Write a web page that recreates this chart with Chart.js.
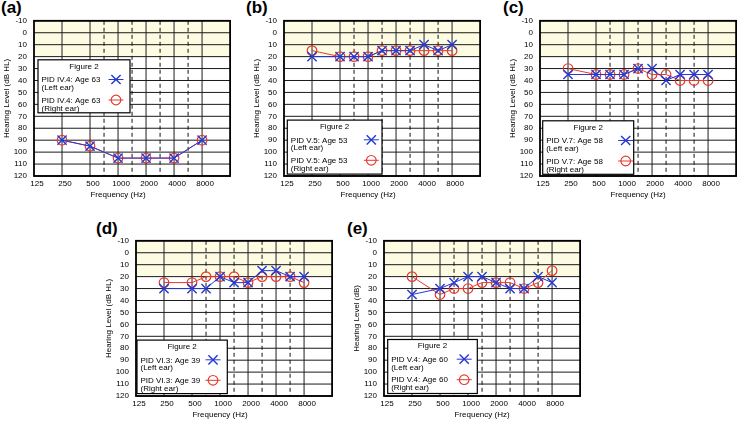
<!DOCTYPE html>
<html><head><meta charset="utf-8">
<script src="https://cdn.jsdelivr.net/npm/chart.js@4.4.1/dist/chart.umd.min.js"></script>
<style>
html,body{margin:0;padding:0;background:#fff;width:743px;height:421px;overflow:hidden;position:relative}
canvas{position:absolute}
.plab{position:absolute;font:bold 17px/17px 'Liberation Sans',Arial,sans-serif;color:#000}
</style></head><body>
<div class="plab" style="left:1px;top:-1px">(a)</div>
<div class="plab" style="left:246px;top:-1px">(b)</div>
<div class="plab" style="left:503px;top:-1px">(c)</div>
<div class="plab" style="left:96px;top:220px">(d)</div>
<div class="plab" style="left:347px;top:220px">(e)</div>
<canvas id="ca"></canvas>
<canvas id="cb"></canvas>
<canvas id="cc"></canvas>
<canvas id="cd"></canvas>
<canvas id="ce"></canvas>
<script>
// ---- axis categories (half-octave audiometric scale) ----
const freqAxis = ['125','177','250','354','500','750','1000','1500','2000','3000','4000','6000','8000','12000','16000'];
const freqTickLabels = ['125','250','500','1000','2000','4000','8000'];
const halfOctaves = ['750','1500','3000','6000'];
const yTicks = [-10,0,10,20,30,40,50,60,70,80,90,100,110,120];

// ---- panel (a) ----
const aFreqs = ['250','500','1000','2000','4000','8000'];
const aLeft  = [90,95,105,105,105,90];
const aRight = [90,95,105,105,105,90];
const aPid = 'PID IV.4: Age 63';

// ---- panel (b) ----
const bFreqs = ['250','500','750','1000','1500','2000','3000','4000','6000','8000'];
const bLeft  = [20,20,20,20,15,15,15,10,15,10];
const bRight = [15,20,20,20,15,15,15,15,15,15];
const bPid = 'PID V.5: Age 53';

// ---- panel (c) ----
const cFreqs = ['250','500','750','1000','1500','2000','3000','4000','6000','8000'];
const cLeft  = [35,35,35,35,30,30,40,35,35,35];
const cRight = [30,35,35,35,30,35,35,40,40,40];
const cPid = 'PID V.7: Age 58';

// ---- panel (d) ----
const dFreqs = ['250','500','750','1000','1500','2000','3000','4000','6000','8000'];
const dLeft  = [30,30,30,20,25,25,15,15,20,20];
const dRight = [25,25,20,20,20,25,20,20,20,25];
const dPid = 'PID VI.3: Age 39';

// ---- panel (e) ----
const eFreqs = ['250','500','750','1000','1500','2000','3000','4000','6000','8000'];
const eLeft  = [35,30,25,20,20,25,30,30,20,25];
const eRight = [20,35,30,30,25,25,25,30,25,15];
const ePid = 'PID V.4: Age 60';

const earLabels = ['(Left ear)','(Right ear)'];
const legendTitle = 'Figure 2';
const xTitleText = 'Frequency (Hz)';

const BLUE = '#2438d6', RED = '#e63a2c';
const FONT = "'Liberation Sans', Arial, sans-serif";
Chart.defaults.font.family = FONT;
Chart.defaults.font.size = 8;
Chart.defaults.color = '#000';

const gridPlugin = {
  id: 'audioGrid',
  beforeDatasetsDraw(chart) {
    const {ctx, chartArea: ca, scales: {x, y}} = chart;
    ctx.save();
    const yTop = y.getPixelForValue(-10), yBand = y.getPixelForValue(20);
    ctx.fillStyle = '#fdfce2';
    ctx.fillRect(ca.left, yTop, ca.right - ca.left, yBand - yTop);
    // solid octave lines
    ctx.strokeStyle = '#5e5e5e'; ctx.lineWidth = 1.4;
    freqTickLabels.slice(1).forEach(f => {
      const px = x.getPixelForValue(freqAxis.indexOf(f));
      ctx.beginPath(); ctx.moveTo(px, ca.top); ctx.lineTo(px, ca.bottom); ctx.stroke();
    });
    // horizontal lines
    ctx.strokeStyle = '#1a1a1a'; ctx.lineWidth = 1;
    yTicks.forEach(v => {
      const py = y.getPixelForValue(v);
      ctx.beginPath(); ctx.moveTo(ca.left, py); ctx.lineTo(ca.right, py); ctx.stroke();
    });
    // dashed half-octave lines
    ctx.strokeStyle = '#111'; ctx.lineWidth = 1; ctx.setLineDash([4, 3]);
    halfOctaves.forEach(f => {
      const px = x.getPixelForValue(freqAxis.indexOf(f));
      ctx.beginPath(); ctx.moveTo(px, ca.top); ctx.lineTo(px, ca.bottom); ctx.stroke();
    });
    ctx.setLineDash([]);
    ctx.strokeStyle = '#000'; ctx.lineWidth = 1.8;
    ctx.strokeRect(ca.left, ca.top, ca.right - ca.left, ca.bottom - ca.top);
    ctx.restore();
  }
};

const legendPlugin = {
  id: 'audioLegend',
  afterDatasetsDraw(chart, args, opts) {
    const {ctx, chartArea: ca} = chart;
    const bx = ca.left + opts.x, by = ca.top + opts.y;
    ctx.save();
    ctx.fillStyle = '#fff'; ctx.fillRect(bx, by, opts.w, opts.h);
    ctx.strokeStyle = '#000'; ctx.lineWidth = 1.2; ctx.strokeRect(bx, by, opts.w, opts.h);
    ctx.font = '8px ' + FONT;
    ctx.fillStyle = '#000'; ctx.textBaseline = 'middle';
    ctx.textAlign = 'center';
    ctx.fillText(opts.title, bx + opts.w / 2, by + 6.5);
    ctx.textAlign = 'left';
    chart.data.datasets.forEach((ds, i) => {
      const y0 = by + 20.2 + i * 20.5;
      ctx.fillStyle = '#000';
      ctx.fillText(ds.label, bx + 3.5, y0);
      ctx.fillText(opts.ears[i], bx + 3.5, y0 + 7.8);
      const mx = bx + opts.mx, my = y0 - 0.5;
      ctx.strokeStyle = ds.borderColor; ctx.lineWidth = 1;
      ctx.beginPath(); ctx.moveTo(mx - 7.5, my); ctx.lineTo(mx + 7.5, my); ctx.stroke();
      ctx.fillStyle = 'rgba(0,0,0,0)';
      ctx.lineWidth = ds.pointBorderWidth;
      Chart.helpers.drawPoint(ctx, {pointStyle: ds.pointStyle, radius: ds.pointRadius, borderWidth: ds.pointBorderWidth, rotation: 0}, mx, my);
    });
    ctx.restore();
  }
};

const xTitlePlugin = {
  id: 'xTitle',
  afterDraw(chart, args, opts) {
    const {ctx, chartArea: ca, scales: {x}} = chart;
    const cx = opts.at ? x.getPixelForValue(freqAxis.indexOf(opts.at)) : (ca.left + ca.right) / 2;
    ctx.save();
    ctx.font = '8px ' + FONT; ctx.fillStyle = '#000';
    ctx.textAlign = 'center'; ctx.textBaseline = 'middle';
    ctx.fillText(opts.text, cx, ca.bottom + 18.5);
    ctx.restore();
  }
};

const PW = 201, PH = 157, YW = 34, XH = 28, PT = 10, PR = 3;

const panels = [
  {id:'ca', L:34,  T:19,  freqs:aFreqs, left:aLeft, right:aRight, pid:aPid, yTitle:'Hearing Level (dB HL)', legend:{x:4, y:39, w:92, h:53, mx:78}, xAt:'1000'},
  {id:'cb', L:284, T:19,  freqs:bFreqs, left:bLeft, right:bRight, pid:bPid, yTitle:'Hearing Level (dB HL)', legend:{x:3.3, y:99.3, w:94.7, h:54, mx:84}, xAt:'1000'},
  {id:'cc', L:540, T:19,  freqs:cFreqs, left:cLeft, right:cRight, pid:cPid, yTitle:'Hearing Level (dB HL)', legend:{x:2.7, y:100, w:91, h:53.5, mx:83}, xAt:null},
  {id:'cd', L:136, T:239, freqs:dFreqs, left:dLeft, right:dRight, pid:dPid, yTitle:'Hearing Level (dB HL)', legend:{x:1, y:99.3, w:90.3, h:53.5, mx:76}, xAt:'1000'},
  {id:'ce', L:384, T:239, freqs:eFreqs, left:eLeft, right:eRight, pid:ePid, yTitle:'Hearing Level (dB)', legend:{x:3.7, y:98.7, w:89.6, h:54, mx:76.5}, xAt:null}
];

panels.forEach(p => {
  const cv = document.getElementById(p.id);
  cv.width = YW + PW + PR; cv.height = PT + PH + XH;
  cv.style.left = (p.L - YW) + 'px'; cv.style.top = (p.T - PT) + 'px';
  cv.style.width = cv.width + 'px'; cv.style.height = cv.height + 'px';
  new Chart(cv, {
    type: 'line',
    data: {
      labels: freqAxis,
      datasets: [
        {label: p.pid, data: p.freqs.map((f, i) => ({x: f, y: p.left[i]})),
         borderColor: BLUE, backgroundColor: 'rgba(0,0,0,0)', borderWidth: 1, tension: 0, fill: false,
         pointStyle: 'crossRot', pointRadius: 6.5, pointBorderWidth: 1.4, pointBorderColor: BLUE, pointBackgroundColor: 'rgba(0,0,0,0)'},
        {label: p.pid, data: p.freqs.map((f, i) => ({x: f, y: p.right[i]})),
         borderColor: RED, backgroundColor: 'rgba(0,0,0,0)', borderWidth: 1, tension: 0, fill: false,
         pointStyle: 'circle', pointRadius: 4.8, pointBorderWidth: 1.2, pointBorderColor: RED, pointBackgroundColor: 'rgba(0,0,0,0)'}
      ]
    },
    options: {
      responsive: false, animation: false, devicePixelRatio: 1,
      layout: {padding: {top: PT, right: PR, left: 0, bottom: 0}},
      plugins: {
        legend: {display: false}, tooltip: {enabled: false},
        audioLegend: Object.assign({title: legendTitle, ears: earLabels}, p.legend),
        xTitle: {text: xTitleText, at: p.xAt}
      },
      scales: {
        x: {type: 'category', offset: false,
            grid: {display: false, drawTicks: false}, border: {display: false},
            ticks: {autoSkip: false, maxRotation: 0, padding: 3, labelOffset: 3, color: '#000',
                    callback: function(v) { const l = this.getLabelForValue(v); return freqTickLabels.includes(l) ? l : ''; }},
            afterFit: s => { s.height = XH; }},
        y: {type: 'linear', reverse: true, min: -10, max: 120,
            grid: {display: false, drawTicks: false}, border: {display: false},
            ticks: {stepSize: 10, autoSkip: false, padding: 7, color: '#000'},
            title: {display: true, text: p.yTitle, color: '#000', font: {size: 8}, padding: {top: 2, bottom: 0}},
            afterFit: s => { s.width = YW; }}
      }
    },
    plugins: [gridPlugin, legendPlugin, xTitlePlugin]
  });
});
</script>
</body></html>
